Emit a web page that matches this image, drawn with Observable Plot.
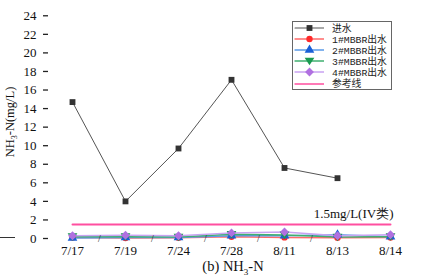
<!DOCTYPE html>
<html><head><meta charset="utf-8">
<script src="https://cdn.jsdelivr.net/npm/d3@7"></script>
<script src="https://cdn.jsdelivr.net/npm/@observablehq/plot@0.6"></script>
<style>
body{margin:0;background:#fff;}
#wrap{position:relative;width:426px;height:280px;overflow:hidden;font-family:"Liberation Serif",serif;}
#wrap svg.chart{position:absolute;left:0;top:0;}
#wrap svg.chart text{font-family:"Liberation Serif",serif !important;}
#ylab{position:absolute;left:11px;top:122px;transform:translate(-50%,-50%) rotate(-90deg);white-space:nowrap;font-size:12.5px;color:#111;}
#cap{position:absolute;left:43px;width:380px;top:258px;text-align:center;font-size:14.5px;color:#111;}
#legend{position:absolute;left:292px;top:21px;width:98px;height:67px;border:1px solid #666;background:#fff;}
.row{position:absolute;left:0;height:11px;display:flex;align-items:center;}
.row span{font-family:"Liberation Mono","Noto Sans CJK SC",monospace;font-size:9.8px;color:#222;margin-left:8px;white-space:nowrap;}
#stub{position:absolute;left:0;top:237px;width:15px;height:1px;background:#333;}
</style></head>
<body>
<div id="wrap">
  <div id="stub"></div>
  <div id="ylab">NH<sub style="font-size:8px">3</sub>-N(mg/L)</div>
  <div id="cap">(b) NH<sub style="font-size:9px">3</sub>-N</div>
  <div id="legend"></div>
</div>
<script>
const dates = ["7/17","7/19","7/24","7/28","8/11","8/13","8/14"];
const influent = [14.7, 4.0, 9.7, 17.1, 7.6, 6.5, null];
const mbbr1 = [0.10, 0.05, 0.08, 0.18, 0.12, 0.08, 0.10];
const mbbr2 = [0.05, 0.10, 0.12, 0.30, 0.30, 0.40, 0.20];
const mbbr3 = [0.20, 0.20, 0.15, 0.45, 0.38, 0.15, 0.20];
const mbbr4 = [0.30, 0.35, 0.30, 0.60, 0.70, 0.30, 0.40];
const refValue = 1.5;
const refLabel = "1.5mg/L(IV类)";
const seriesNames = ["进水","1#MBBR出水","2#MBBR出水","3#MBBR出水","4#MBBR出水","参考线"];
const yTicks = [0,2,4,6,8,10,12,14,16,18,20,22,24];
const breakDates = ["7/17","7/19","7/24","7/28","8/11"];

const triDown = {draw(ctx, size){ const s = Math.sqrt(size/1.3); ctx.moveTo(0, s*0.75); ctx.lineTo(-s*0.87, -s*0.6); ctx.lineTo(s*0.87, -s*0.6); ctx.closePath(); }};

const styles = [
  {line:"#555", fill:"#333", symbol:"square", r:3.3},
  {line:"#ff6a6a", fill:"#ff2a2a", symbol:"circle", r:3.2},
  {line:"#5a9ae8", fill:"#1a5fd6", symbol:"triangle", r:3.6},
  {line:"#40b070", fill:"#1a9a50", symbol:triDown, r:3.6},
  {line:"#c9a3f2", fill:"#b070e0", symbol:"diamond2", r:4},
  {line:"#ff4fa0"}
];
const series = [influent, mbbr1, mbbr2, mbbr3, mbbr4];
const rows = [];
series.forEach((vals, i) => vals.forEach((v, j) => { if (v != null) rows.push({s: i, date: dates[j], value: v}); }));
const refRows = dates.map(d => ({date: d, value: refValue}));

const marks = [
  Plot.line(refRows, {x:"date", y:"value", stroke:styles[5].line, strokeWidth:2})
];
[0,1,2,3,4].forEach(i => {
  const data = rows.filter(r => r.s === i);
  marks.push(Plot.line(data, {x:"date", y:"value", stroke:styles[i].line, strokeWidth: i===0?1:1.5}));
});
[1,2,3,0,4].forEach(i => {
  const data = rows.filter(r => r.s === i);
  marks.push(Plot.dot(data, {x:"date", y:"value", fill:styles[i].fill, stroke:"none", symbol:()=>styles[i].symbol, r:styles[i].r}));
});
marks.push(Plot.text([refLabel], {x:()=>dates[dates.length-1], y:()=>refValue, text:d=>d, textAnchor:"end", dx:3, dy:-11, fontSize:13}));
marks.push(Plot.axisY({ticks:yTicks, tickSize:-5, tickPadding:12, line:true, label:null, stroke:"#222", strokeWidth:1.3}));
marks.push(Plot.axisX({tickSize:0, tickPadding:7, line:true, label:null, stroke:"#222", strokeWidth:1.3}));
marks.push(Plot.text(breakDates, {x:d=>d, y:()=>0, text:()=>"/", dx:26.8, dy:0, fontSize:10, fill:"#222"}));

const chart = Plot.plot({
  width:426, height:280,
  marginLeft:43, marginRight:8, marginTop:6, marginBottom:42,
  style:{background:"transparent", color:"#111", fontFamily:"Liberation Serif, serif", fontSize:"13px"},
  x:{type:"point", domain:dates, padding:0.5},
  y:{domain:[0,25]},
  marks
});
chart.classList.add("chart");
document.getElementById("wrap").insertBefore(chart, document.getElementById("wrap").firstChild);

const legend = document.getElementById("legend");
seriesNames.forEach((name, i) => {
  const st = styles[i];
  const row = document.createElement("div");
  row.className = "row";
  row.style.top = (0 + i*11.1) + "px";
  const sw = Plot.plot({width:30, height:11, margin:0, x:{domain:[0,1]}, y:{domain:[0,1]}, axis:null,
    style:{background:"transparent"},
    marks:[
      Plot.line([[0.02,0.5],[0.98,0.5]], {stroke:st.line, strokeWidth: i===0?1.2:1.6}),
      ...(st.symbol ? [Plot.dot([[0.5,0.5]], {fill:st.fill, stroke:"none", symbol:()=>st.symbol, r:st.r})] : [])
    ]});
  sw.style.marginLeft = "1px";
  row.appendChild(sw);
  const t = document.createElement("span");
  t.textContent = name;
  row.appendChild(t);
  legend.appendChild(row);
});
</script>
</body></html>
